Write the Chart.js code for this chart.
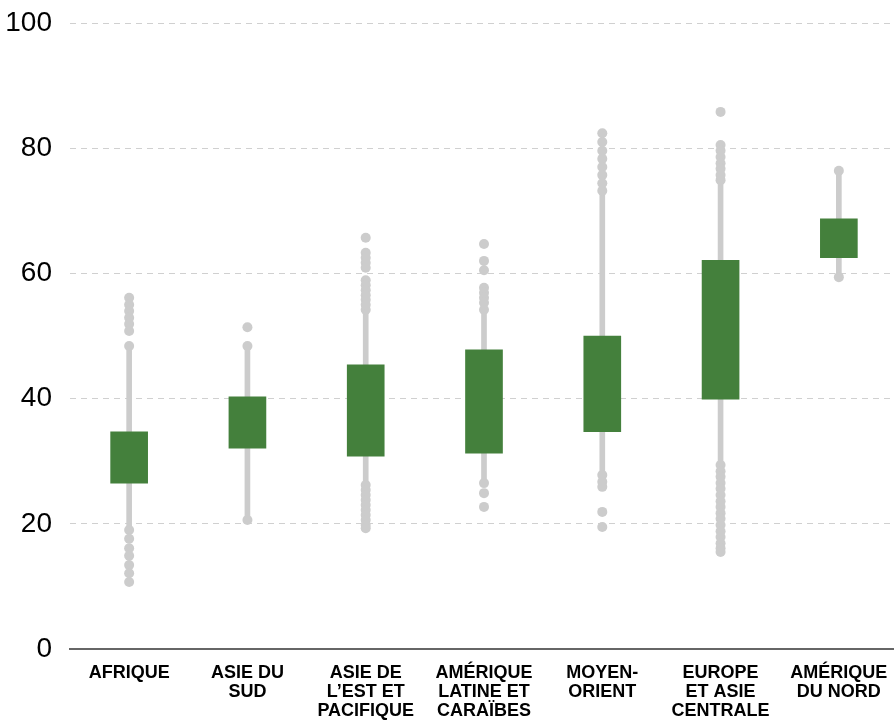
<!DOCTYPE html>
<html>
<head>
<meta charset="utf-8">
<script src="https://cdn.jsdelivr.net/npm/chart.js@4/dist/chart.umd.min.js"></script>
<style>
  html, body { margin: 0; padding: 0; background: #fff; overflow: hidden; }
  #wrap { width: 903px; height: 722px; position: relative; }
</style>
</head>
<body>
<div id="wrap"><canvas id="chart"></canvas></div>
<script>
// Data
const categories = [
    ['AFRIQUE'],
    ['ASIE DU', 'SUD'],
    ['ASIE DE', 'L\u2019EST ET', 'PACIFIQUE'],
    ['AMÉRIQUE', 'LATINE ET', 'CARAÏBES'],
    ['MOYEN-', 'ORIENT'],
    ['EUROPE', 'ET ASIE', 'CENTRALE'],
    ['AMÉRIQUE', 'DU NORD']
];
const q1 = [26.5, 32.1, 30.8, 31.3, 34.7, 39.9, 62.5];
const q3 = [34.7, 40.3, 45.4, 47.8, 50.0, 62.1, 68.7];
const whiskerLow = [19.0, 20.6, 26.2, 26.5, 27.8, 29.4, 59.4];
const whiskerHigh = [48.4, 48.4, 54.2, 54.2, 73.2, 74.9, 76.4];
const outliers = [
    [56.1, 55.0, 54.0, 52.9, 51.9, 50.8, 17.6, 16.1, 14.9, 13.4, 12.1, 10.7],
    [51.4],
    [65.7, 63.3, 62.5, 61.7, 60.9, 58.9, 58.1, 57.3, 56.5, 55.8, 55.0,
     25.4, 24.6, 23.8, 23.0, 22.2, 21.4, 20.6, 19.8, 19.3],
    [64.7, 62.0, 60.5, 57.7, 56.9, 56.1, 55.3, 24.9, 22.7],
    [82.4, 81.0, 79.6, 78.3, 77.0, 75.7, 74.4, 26.7, 25.9, 21.9, 19.5],
    [85.8, 80.5, 79.6, 78.6, 77.6, 76.7, 75.7,
     28.4, 27.5, 26.5, 25.6, 24.6, 23.6, 22.7, 21.7, 20.8, 19.8, 18.8, 17.9, 16.9, 16.1, 15.5],
    []
];
const yTicks = [0, 20, 40, 60, 80, 100];

const GREEN = '#44803c';
const GREY = '#cccccc';
const FONT = "'Liberation Sans Narrow', 'Arial Narrow', 'Liberation Sans', Arial, sans-serif";

// dots: whisker ends + outliers, x = category index
const dots = [];
categories.forEach((c, i) => {
    dots.push({ x: i, y: whiskerLow[i] });
    dots.push({ x: i, y: whiskerHigh[i] });
    outliers[i].forEach(v => dots.push({ x: i, y: v }));
});

const ctx = document.getElementById('chart').getContext('2d');
new Chart(ctx, {
    type: 'bar',
    data: {
        labels: categories,
        datasets: [
            {
                label: 'boxes',
                data: q1.map((v, i) => [v, q3[i]]),
                backgroundColor: GREEN,
                barThickness: 37,
                grouped: false,
                order: 1
            },
            {
                label: 'whiskers',
                data: whiskerLow.map((v, i) => [v, whiskerHigh[i]]),
                backgroundColor: GREY,
                barThickness: 5,
                grouped: false,
                order: 3
            },
            {
                type: 'scatter',
                label: 'points',
                xAxisID: 'xs',
                data: dots,
                showLine: false,
                pointRadius: 5,
                pointHoverRadius: 5,
                pointBackgroundColor: GREY,
                pointBorderWidth: 0,
                order: 2
            }
        ]
    },
    options: {
        responsive: true,
        maintainAspectRatio: false,
        animation: false,
        layout: { padding: { top: 23, right: 0, bottom: 0, left: 0 } },
        plugins: {
            legend: { display: false },
            tooltip: { enabled: false }
        },
        scales: {
            x: {
                type: 'category',
                offset: true,
                grid: { display: false, drawTicks: false },
                border: { display: true, color: '#666', width: 2 },
                ticks: {
                    autoSkip: false,
                    maxRotation: 0,
                    minRotation: 0,
                    padding: 14,
                    color: '#000',
                    font: { family: FONT, weight: 'bold', size: 18, lineHeight: 1.07 }
                },
                afterFit: (s) => { s.height = 73; s.paddingLeft = 0; s.paddingRight = 0; }
            },
            xs: {
                type: 'linear',
                display: false,
                offset: false,
                grid: { offset: false },
                min: -0.5,
                max: 6.5
            },
            y: {
                min: 0,
                max: 100,
                afterBuildTicks: (s) => { s.ticks = yTicks.map(v => ({ value: v })); },
                grid: {
                    drawTicks: false,
                    color: (c) => c.tick && c.tick.value === 0 ? 'rgba(0,0,0,0)' : '#d0d0d0',
                    lineWidth: 1
                },
                border: { display: false, dash: [6, 5] },
                ticks: {
                    padding: 18,
                    color: '#000',
                    font: { family: FONT, size: 28 }
                },
                afterFit: (s) => { s.width = 70; s.paddingTop = 0; s.paddingBottom = 0; }
            }
        }
    }
});
</script>
</body>
</html>
